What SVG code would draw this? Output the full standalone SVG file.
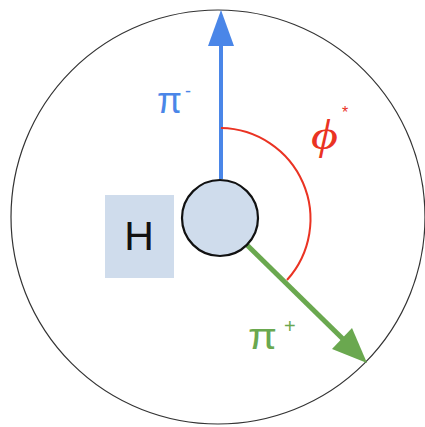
<svg xmlns="http://www.w3.org/2000/svg" width="425" height="427" viewBox="0 0 425 427">
<style>
.lbl{font-family:"Liberation Sans",Arial,sans-serif}
</style>
<rect width="425" height="427" fill="#fff"/>
<g id="outer"><circle cx="218" cy="217" r="207" fill="none" stroke="#333" stroke-width="1.2"/></g>
<g id="connectors">
<path d="M221,179 L221,40" stroke="#4a86e8" stroke-width="4" fill="none"/>
<polygon points="221,10 234,46 208,46" fill="#4a86e8"/>
<path d="M247,245 L345,341" stroke="#6aa84f" stroke-width="5" fill="none"/>
<polygon points="367,363 332,349 352,328" fill="#6aa84f"/>
<path d="M221,128 A91,91 0 0 1 287,280" stroke="#ea3323" stroke-width="2" fill="none"/>
</g>
<g id="H-box"><rect x="105" y="195" width="69" height="83" fill="#cfdcec"/><text x="139" y="250" font-family="'Liberation Sans',Arial,sans-serif" font-size="41" text-anchor="middle" fill="#111">H</text></g>
<g id="particle"><circle cx="220" cy="218" r="38" fill="#cfdcec" stroke="#111" stroke-width="2.2"/></g>
<g id="pi-minus"><text class="lbl" x="157" y="113" font-size="36" textLength="25" lengthAdjust="spacingAndGlyphs" fill="#4a86e8">π</text><text class="lbl" x="185" y="97" font-size="18" fill="#4a86e8">-</text></g>
<g id="pi-plus"><text class="lbl" x="248" y="349" font-size="36" textLength="29" lengthAdjust="spacingAndGlyphs" fill="#6aa84f">π</text><text class="lbl" x="284" y="333" font-size="20" fill="#6aa84f">+</text></g>
<g id="phi"><text x="311" y="149" font-family="'Liberation Serif','Times New Roman',serif" font-style="italic" font-size="42" textLength="27" lengthAdjust="spacingAndGlyphs" fill="#ea3323">ϕ</text><text class="lbl" x="342" y="118" font-size="16" fill="#ea3323">*</text></g>
</svg>
